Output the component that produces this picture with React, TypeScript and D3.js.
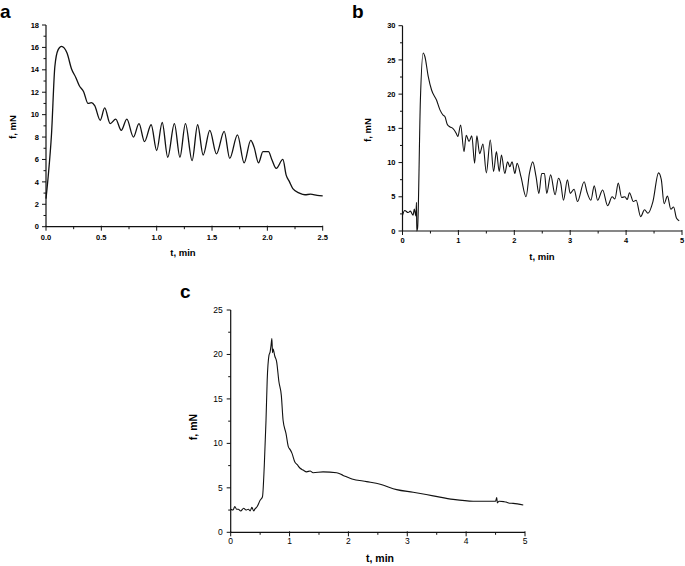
import React from "react";
import * as d3 from "d3";

// Panel a
const tA = [0, 0.02, 0.05, 0.08, 0.11, 0.14, 0.19, 0.23, 0.27, 0.3, 0.34, 0.38, 0.41, 0.44, 0.49, 0.53, 0.58, 0.63, 0.68, 0.73, 0.79, 0.84, 0.89, 0.95, 1.0, 1.05, 1.1, 1.16, 1.21, 1.26, 1.32, 1.37, 1.42, 1.48, 1.54, 1.61, 1.66, 1.73, 1.79, 1.85, 1.88, 1.92, 1.96, 2.01, 2.04, 2.08, 2.14, 2.17, 2.2, 2.23, 2.29, 2.34, 2.39, 2.45, 2.5];
const fA = [2.5, 4.5, 8.3, 14.3, 15.8, 16.1, 15.5, 14.1, 13.3, 12.6, 12.05, 11.0, 11.07, 10.8, 9.5, 10.6, 9.2, 9.6, 8.6, 9.6, 8.0, 9.2, 7.6, 9.1, 6.8, 9.3, 6.2, 9.2, 6.2, 9.2, 5.9, 9.1, 6.4, 8.6, 6.5, 8.5, 6.1, 8.2, 5.7, 7.7, 7.1, 5.7, 6.7, 6.7, 6.0, 5.2, 6.0, 4.6, 4.0, 3.4, 3.0, 2.85, 2.9, 2.8, 2.75];

// Panel b
const tB = [0, 0.04, 0.1, 0.14, 0.19, 0.21, 0.24, 0.25, 0.255, 0.27, 0.32, 0.37, 0.4, 0.46, 0.52, 0.61, 0.67, 0.73, 0.76, 0.8, 0.85, 0.9, 0.96, 0.99, 1.04, 1.1, 1.14, 1.19, 1.24, 1.29, 1.33, 1.38, 1.44, 1.5, 1.57, 1.63, 1.68, 1.73, 1.77, 1.83, 1.88, 1.92, 1.96, 2.01, 2.05, 2.12, 2.21, 2.27, 2.33, 2.39, 2.44, 2.49, 2.54, 2.58, 2.65, 2.73, 2.79, 2.83, 2.88, 2.95, 3.0, 3.07, 3.13, 3.25, 3.3, 3.37, 3.43, 3.49, 3.58, 3.67, 3.75, 3.8, 3.86, 3.92, 3.98, 4.02, 4.06, 4.13, 4.18, 4.26, 4.33, 4.39, 4.48, 4.58, 4.63, 4.68, 4.74, 4.8, 4.85, 4.9, 4.95];
const fB = [2.3, 3.0, 2.7, 2.9, 2.3, 3.2, 2.2, 4.2, 0.0, 0.4, 19.1, 26.0, 25.5, 22.6, 20.6, 19.1, 17.7, 16.9, 16.7, 15.6, 15.2, 15.0, 14.3, 13.8, 15.5, 11.6, 14.0, 13.1, 13.9, 9.9, 13.9, 11.3, 12.7, 8.5, 13.3, 8.7, 11.6, 8.7, 11.1, 8.4, 10.1, 9.4, 10.1, 8.4, 9.9, 7.9, 5.0, 8.4, 10.1, 7.9, 5.5, 8.4, 8.4, 5.5, 8.2, 5.3, 7.7, 7.0, 4.5, 7.5, 5.5, 6.1, 4.3, 7.2, 5.7, 4.5, 6.6, 4.5, 6.0, 3.7, 5.0, 4.7, 7.0, 4.9, 5.0, 4.6, 5.6, 4.3, 4.5, 2.1, 3.1, 2.6, 4.3, 8.5, 7.5, 4.0, 5.1, 3.2, 3.5, 1.9, 1.5];

// Panel c
const tC = [0, 0.04, 0.07, 0.1, 0.13, 0.17, 0.22, 0.26, 0.3, 0.33, 0.36, 0.39, 0.41, 0.45, 0.5, 0.54, 0.57, 0.6, 0.62, 0.65, 0.67, 0.685, 0.7, 0.71, 0.72, 0.75, 0.78, 0.82, 0.86, 0.89, 0.94, 0.98, 1.01, 1.04, 1.09, 1.13, 1.18, 1.23, 1.29, 1.35, 1.4, 1.57, 1.8, 1.91, 2.06, 2.31, 2.54, 2.82, 3.1, 3.44, 3.78, 4.12, 4.46, 4.5, 4.52, 4.53, 4.56, 4.64, 4.68, 4.72, 4.8, 4.97];
const fC = [2.6, 2.5, 2.9, 2.6, 2.6, 2.4, 2.7, 2.5, 2.6, 2.4, 2.8, 2.4, 2.6, 2.9, 3.6, 4.0, 7.4, 12.6, 17.1, 19.9, 20.3, 21.0, 21.8, 20.2, 20.6, 19.8, 19.2, 16.9, 15.4, 12.6, 11.1, 9.6, 9.3, 8.9, 7.9, 7.6, 7.2, 7.0, 6.8, 6.9, 6.7, 6.8, 6.7, 6.4, 6.0, 5.7, 5.4, 4.8, 4.5, 4.1, 3.7, 3.5, 3.5, 3.5, 3.9, 3.3, 3.5, 3.45, 3.4, 3.3, 3.25, 3.07];

const font = "'Liberation Sans', Arial, sans-serif";

type PanelProps = {
  letter: string;
  letterPos: [number, number];
  ts: number[];
  fs: number[];
  xDom: [number, number];
  yDom: [number, number];
  xRange: [number, number];
  yRange: [number, number];
  xMajor: number[];
  xMinor: number[];
  yMajor: number[];
  yMinor: number[];
  xFmt: (v: number) => string;
  tickFont: number;
  tickWeight: string;
  titleFont: number;
  xTitlePos: [number, number];
  yTitlePos: [number, number];
  xLabelY: number;
  yLabelOff: number;
  lineW: number;
};

function Panel(p: PanelProps) {
  const x = d3.scaleLinear().domain(p.xDom).range(p.xRange);
  const y = d3.scaleLinear().domain(p.yDom).range(p.yRange);
  const pts: [number, number][] = p.ts.map((t, i) => [t, p.fs[i]]);
  const line = d3
    .line<[number, number]>()
    .x((d) => x(d[0]))
    .y((d) => y(d[1]))
    .curve(d3.curveMonotoneX);
  const x0 = p.xRange[0];
  const y0 = p.yRange[0];
  return (
    <g>
      <text x={p.letterPos[0]} y={p.letterPos[1]} fontFamily={font} fontWeight="bold" fontSize={19}>
        {p.letter}
      </text>
      <path d={line(pts) || ""} fill="none" stroke="#111" strokeWidth={p.lineW} strokeLinejoin="round" />
      <line x1={x0} x2={x0} y1={y0} y2={p.yRange[1]} stroke="#111" strokeWidth={1.2} />
      <line x1={x0} x2={p.xRange[1]} y1={y0} y2={y0} stroke="#111" strokeWidth={1.2} />
      {p.yMajor.map((v) => (
        <g key={"ym" + v}>
          <line x1={x0 - 4} x2={x0} y1={y(v)} y2={y(v)} stroke="#111" strokeWidth={1} />
          <text x={x0 - p.yLabelOff} y={y(v)} dy="0.35em" textAnchor="end" fontFamily={font} fontSize={p.tickFont} fontWeight={p.tickWeight}>
            {v}
          </text>
        </g>
      ))}
      {p.yMinor.map((v) => (
        <line key={"yn" + v} x1={x0 - 2.5} x2={x0} y1={y(v)} y2={y(v)} stroke="#111" strokeWidth={1} />
      ))}
      {p.xMajor.map((v) => (
        <g key={"xm" + v}>
          <line x1={x(v)} x2={x(v)} y1={y0 - 1} y2={y0 + 4} stroke="#111" strokeWidth={1} />
          <text x={x(v)} y={p.xLabelY} dy="0.35em" textAnchor="middle" fontFamily={font} fontSize={p.tickFont} fontWeight={p.tickWeight}>
            {p.xFmt(v)}
          </text>
        </g>
      ))}
      {p.xMinor.map((v) => (
        <line key={"xn" + v} x1={x(v)} x2={x(v)} y1={y0} y2={y0 + 2.5} stroke="#111" strokeWidth={1} />
      ))}
      <text x={p.xTitlePos[0]} y={p.xTitlePos[1]} dy="0.35em" textAnchor="middle" fontFamily={font} fontSize={p.titleFont} fontWeight="bold">
        t, min
      </text>
      <text
        transform={`translate(${p.yTitlePos[0]},${p.yTitlePos[1]}) rotate(-90)`}
        dy="0.35em"
        textAnchor="middle"
        fontFamily={font}
        fontSize={p.titleFont}
        fontWeight="bold"
      >
        f, mN
      </text>
    </g>
  );
}

const range = (a: number, b: number, s: number) => d3.range(a, b + s / 2, s).map((v) => +v.toFixed(3));

export default function App() {
  return (
    <svg width={685} height={566} style={{ position: "absolute", left: 0, top: 0, background: "#fff" }}>
      <Panel
        letter="a"
        letterPos={[0, 18]}
        ts={tA}
        fs={fA}
        xDom={[0, 2.5]}
        yDom={[0, 18]}
        xRange={[46, 322.7]}
        yRange={[226.7, 25]}
        xMajor={range(0, 2.5, 0.5)}
        xMinor={range(0.25, 2.25, 0.5)}
        yMajor={range(0, 18, 2)}
        yMinor={range(1, 17, 2)}
        xFmt={(v) => v.toFixed(1)}
        tickFont={7.5}
        tickWeight="bold"
        titleFont={9.5}
        xTitlePos={[183, 253]}
        yTitlePos={[13, 127]}
        xLabelY={237}
        yLabelOff={7}
        lineW={1.3}
      />
      <Panel
        letter="b"
        letterPos={[352, 18]}
        ts={tB}
        fs={fB}
        xDom={[0, 5]}
        yDom={[0, 30]}
        xRange={[402.5, 682]}
        yRange={[231, 25.7]}
        xMajor={range(0, 5, 1)}
        xMinor={range(0.5, 4.5, 1)}
        yMajor={range(0, 30, 5)}
        yMinor={range(2.5, 27.5, 5)}
        xFmt={(v) => String(v)}
        tickFont={7.5}
        tickWeight="bold"
        titleFont={9.5}
        xTitlePos={[542, 257]}
        yTitlePos={[368, 130]}
        xLabelY={240}
        yLabelOff={7}
        lineW={1.1}
      />
      <Panel
        letter="c"
        letterPos={[180, 298]}
        ts={tC}
        fs={fC}
        xDom={[0, 5]}
        yDom={[0, 25]}
        xRange={[230.7, 525]}
        yRange={[532.3, 310]}
        xMajor={range(0, 5, 1)}
        xMinor={range(0.5, 4.5, 1)}
        yMajor={range(0, 25, 5)}
        yMinor={range(2.5, 22.5, 5)}
        xFmt={(v) => String(v)}
        tickFont={8.5}
        tickWeight="normal"
        titleFont={10.5}
        xTitlePos={[380, 558]}
        yTitlePos={[193, 427]}
        xLabelY={541.5}
        yLabelOff={8}
        lineW={1.1}
      />
    </svg>
  );
}
